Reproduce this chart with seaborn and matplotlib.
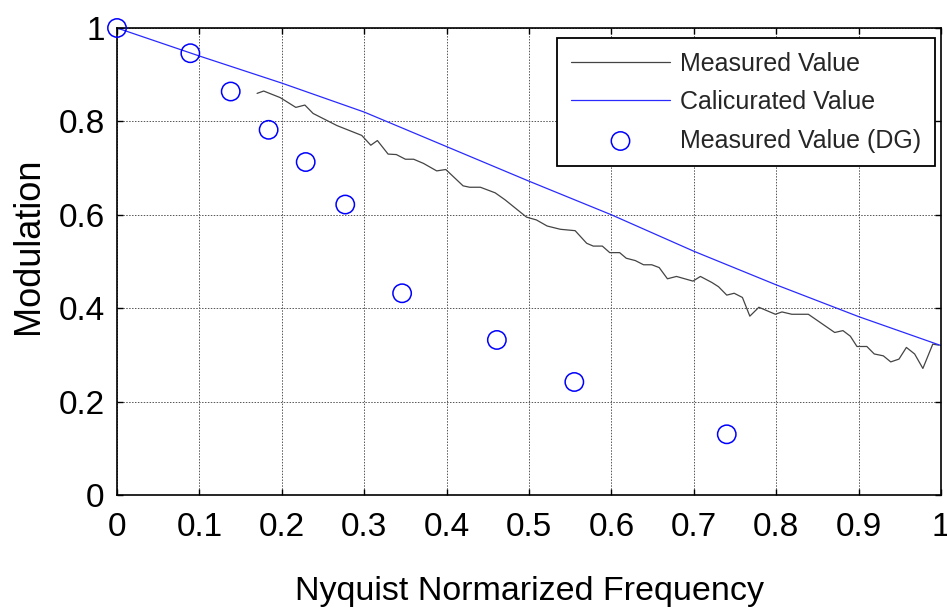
import matplotlib
matplotlib.use("Agg")
import matplotlib.pyplot as plt
import seaborn as sns
import pandas as pd

# ---- data ----
meas_x = [0.170, 0.178, 0.198, 0.217, 0.228, 0.238, 0.267, 0.297, 0.308, 0.316,
          0.329, 0.339, 0.350, 0.360, 0.372, 0.388, 0.399, 0.420, 0.428, 0.441,
          0.459, 0.471, 0.497, 0.509, 0.522, 0.538, 0.556, 0.570, 0.578, 0.589,
          0.598, 0.610, 0.618, 0.629, 0.639, 0.649, 0.658, 0.668, 0.679, 0.699,
          0.708, 0.722, 0.730, 0.740, 0.749, 0.759, 0.768, 0.779, 0.799, 0.807,
          0.819, 0.839, 0.871, 0.881, 0.890, 0.898, 0.910, 0.919, 0.930, 0.939,
          0.949, 0.958, 0.968, 0.978, 0.990, 0.997]
meas_y = [0.860, 0.865, 0.851, 0.830, 0.835, 0.817, 0.791, 0.770, 0.749, 0.759,
          0.730, 0.729, 0.719, 0.719, 0.710, 0.694, 0.697, 0.662, 0.659, 0.659,
          0.647, 0.632, 0.595, 0.589, 0.576, 0.569, 0.566, 0.539, 0.533, 0.533,
          0.519, 0.519, 0.507, 0.502, 0.493, 0.493, 0.487, 0.463, 0.468, 0.458,
          0.468, 0.455, 0.446, 0.428, 0.432, 0.423, 0.383, 0.402, 0.387, 0.392,
          0.387, 0.387, 0.348, 0.352, 0.340, 0.318, 0.318, 0.302, 0.298, 0.285,
          0.291, 0.316, 0.302, 0.271, 0.323, 0.321]

calc_x = [0.0, 0.1, 0.2, 0.3, 0.4, 0.5, 0.6, 0.7, 0.8, 0.9, 1.0]
calc_y = [1.0, 0.940, 0.882, 0.820, 0.746, 0.672, 0.600, 0.522, 0.450, 0.382, 0.320]

dg_x = [0.0, 0.089, 0.138, 0.184, 0.229, 0.277, 0.346, 0.461, 0.555, 0.740]
dg_y = [1.0, 0.946, 0.864, 0.782, 0.713, 0.622, 0.432, 0.332, 0.242, 0.130]

x_ticks = [0, 0.1, 0.2, 0.3, 0.4, 0.5, 0.6, 0.7, 0.8, 0.9, 1]
x_tick_labels = ["0", "0.1", "0.2", "0.3", "0.4", "0.5", "0.6", "0.7", "0.8", "0.9", "1"]
y_ticks = [0, 0.2, 0.4, 0.6, 0.8, 1]
y_tick_labels = ["0", "0.2", "0.4", "0.6", "0.8", "1"]

sns.set_theme(style="white")
plt.rcParams["font.family"] = ["Liberation Sans", "DejaVu Sans"]

fig = plt.figure(figsize=(9.47, 6.08), dpi=100)
ax = fig.add_axes([117 / 947, 1 - 495 / 608, 824 / 947, 467 / 608])

meas_df = pd.DataFrame({"x": meas_x, "y": meas_y})
calc_df = pd.DataFrame({"x": calc_x, "y": calc_y})
dg_df = pd.DataFrame({"x": dg_x, "y": dg_y})

sns.lineplot(data=meas_df, x="x", y="y", ax=ax, color="#444444", linewidth=0.9,
             estimator=None, sort=False, label="Measured Value")
sns.lineplot(data=calc_df, x="x", y="y", ax=ax, color="#2a2aff", linewidth=0.9,
             estimator=None, sort=False, label="Calicurated Value")
sns.scatterplot(data=dg_df, x="x", y="y", ax=ax, marker="o", s=175,
                facecolors="none", edgecolor="#0000ff", linewidth=1.1,
                label="Measured Value (DG)", zorder=5, clip_on=False)

ax.set_xlim(0, 1)
ax.set_ylim(0, 1)
ax.set_xticks(x_ticks)
ax.set_xticklabels(x_tick_labels)
ax.set_yticks(y_ticks)
ax.set_yticklabels(y_tick_labels)

ax.grid(True, color="#555555", linestyle=(0, (1.5, 1.5)), linewidth=0.7)
ax.tick_params(axis="both", which="major", direction="in", length=4, width=1,
               top=True, right=True, bottom=True, left=True,
               labelsize=24, colors="black")
ax.tick_params(axis="x", pad=12)
ax.tick_params(axis="y", pad=9)
for sp in ax.spines.values():
    sp.set_visible(True)
    sp.set_color("black")
    sp.set_linewidth(1.2)

ax.set_xlabel("Nyquist Normarized Frequency", fontsize=24.5, labelpad=24, color="black")
ax.set_ylabel("Modulation", fontsize=26, color="black")
ax.yaxis.set_label_coords(-0.086, 0.533)

leg = ax.legend(loc="upper right", bbox_to_anchor=(0.993, 0.979), fontsize=18,
                frameon=True, fancybox=False, edgecolor="black", framealpha=1,
                handlelength=3.95, handletextpad=0.42, labelspacing=0.58,
                borderpad=0.55, borderaxespad=0)
leg.get_frame().set_linewidth(1.3)

fig.savefig("out.png", dpi=100)
